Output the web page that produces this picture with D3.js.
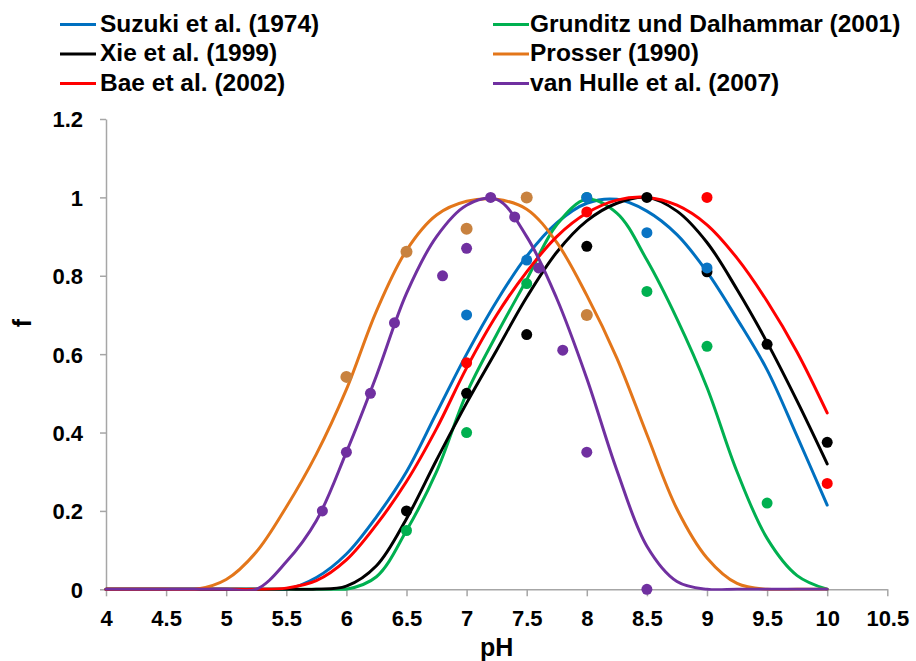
<!DOCTYPE html>
<html>
<head>
<meta charset="utf-8">
<script src="https://cdn.jsdelivr.net/npm/d3@7"></script>
<style>
  body { margin: 0; background: #fff; }
  text { font-family: "Liberation Sans", Arial, Helvetica, sans-serif; font-weight: bold; fill: #000; }
</style>
</head>
<body>
<svg id="chart" width="916" height="661"></svg>
<script>
// Axis ticks
const xTicks = [4, 4.5, 5, 5.5, 6, 6.5, 7, 7.5, 8, 8.5, 9, 9.5, 10, 10.5];
const yTicks = [0, 0.2, 0.4, 0.6, 0.8, 1, 1.2];

// pH grid on which the fitted curves are tabulated
const pHGrid = [4, 4.25, 4.5, 4.75, 5, 5.25, 5.5, 5.75, 6, 6.25, 6.5, 6.75, 7,
                7.25, 7.5, 7.75, 8, 8.25, 8.5, 8.75, 9, 9.25, 9.5, 9.75, 10];

// Fitted pH functions f(pH)
const suzukiFit   = [0, 0, 0, 0, 0, 0, 0, 0.03, 0.09, 0.185, 0.30, 0.45, 0.60,
                     0.735, 0.85, 0.935, 0.985, 0.995, 0.965, 0.905, 0.81, 0.69, 0.56, 0.39, 0.215];
const grunditzFit = [0, 0, 0, 0, 0, 0, 0, 0, 0, 0.032, 0.15, 0.30, 0.50,
                     0.65, 0.79, 0.93, 0.995, 0.96, 0.84, 0.69, 0.515, 0.30, 0.13, 0.035, 0];
const xieFit      = [0, 0, 0, 0, 0, 0, 0, 0, 0.008, 0.06, 0.18, 0.33, 0.475,
                     0.61, 0.745, 0.86, 0.94, 0.985, 1.0, 0.965, 0.885, 0.765, 0.63, 0.48, 0.32];
const prosserFit  = [0, 0, 0, 0, 0.025, 0.095, 0.21, 0.345, 0.51, 0.71, 0.865, 0.955, 0.99,
                     0.995, 0.97, 0.885, 0.75, 0.59, 0.395, 0.205, 0.08, 0.015, 0, 0, 0];
const baeFit      = [0, 0, 0, 0, 0, 0, 0.003, 0.022, 0.075, 0.165, 0.275, 0.41, 0.565,
                     0.70, 0.81, 0.90, 0.96, 0.993, 1.0, 0.98, 0.93, 0.845, 0.735, 0.605, 0.45];
const hulleFit    = [0, 0, 0, 0, 0, 0, 0.07, 0.175, 0.35, 0.545, 0.755, 0.90, 0.98,
                     0.995, 0.90, 0.742, 0.538, 0.304, 0.11, 0.02, 0, 0, 0, 0, 0];

// Measured values
const suzukiPH   = [7, 7.5, 8, 8.5, 9];
const suzukiObs  = [0.70, 0.84, 1.0, 0.91, 0.82];
const grunditzPH = [6.5, 7, 7.5, 8, 8.5, 9, 9.5];
const grunditzObs= [0.15, 0.40, 0.78, 1.0, 0.76, 0.62, 0.22];
const xiePH      = [6.5, 7, 7.5, 8, 8.5, 9, 9.5, 10];
const xieObs     = [0.20, 0.50, 0.65, 0.875, 1.0, 0.81, 0.625, 0.375];
const prosserPH  = [6, 6.5, 7, 7.5, 8];
const prosserObs = [0.542, 0.861, 0.92, 1.0, 0.70];
const baePH      = [7, 8, 9, 10];
const baeObs     = [0.578, 0.963, 1.0, 0.27];
const hullePH    = [5.8, 6, 6.2, 6.4, 6.8, 7, 7.2, 7.4, 7.6, 7.8, 8, 8.5];
const hulleObs   = [0.20, 0.35, 0.50, 0.68, 0.80, 0.87, 1.0, 0.95, 0.82, 0.61, 0.35, 0];

const series = [
  { name: "Suzuki et al. (1974)",          color: "#0070C0", dot: "#0a74c4", fit: suzukiFit,   px: suzukiPH,   obs: suzukiObs,   col: 0, row: 0 },
  { name: "Grunditz und Dalhammar (2001)", color: "#00B050", dot: "#00B050", fit: grunditzFit, px: grunditzPH, obs: grunditzObs, col: 1, row: 0 },
  { name: "Xie et al. (1999)",             color: "#000000", dot: "#000000", fit: xieFit,      px: xiePH,      obs: xieObs,      col: 0, row: 1 },
  { name: "Prosser (1990)",                color: "#E3761A", dot: "#C8823F", fit: prosserFit,  px: prosserPH,  obs: prosserObs,  col: 1, row: 1 },
  { name: "Bae et al. (2002)",             color: "#FF0000", dot: "#FF0000", fit: baeFit,      px: baePH,      obs: baeObs,      col: 0, row: 2 },
  { name: "van Hulle et al. (2007)",       color: "#7030A0", dot: "#7030A0", fit: hulleFit,    px: hullePH,    obs: hulleObs,    col: 1, row: 2 }
];

const svg = d3.select("#chart");
svg.append("rect").attr("width", 916).attr("height", 661).attr("fill", "#fff");

const x = d3.scaleLinear().domain([4, 10.5]).range([106, 887.3]);
const y = d3.scaleLinear().domain([0, 1.2]).range([589.3, 119]);

const axisColor = "#A6A6A6";

// x axis
const gx = svg.append("g").attr("transform", `translate(0,${y(0)})`)
  .call(d3.axisBottom(x).tickValues(xTicks).tickSize(7).tickSizeOuter(0).tickFormat(d => String(d)));
gx.select(".domain").attr("stroke", axisColor).attr("stroke-width", 1.5);
gx.selectAll(".tick line").attr("stroke", axisColor).attr("stroke-width", 1.5);
gx.selectAll(".tick text").attr("y", 37).attr("dy", 0).attr("font-size", 22);

// y axis
const gy = svg.append("g").attr("transform", `translate(${x(4)},0)`)
  .call(d3.axisLeft(y).tickValues(yTicks).tickSize(6).tickSizeOuter(0).tickFormat(d => String(d)));
gy.select(".domain").attr("stroke", axisColor).attr("stroke-width", 1.5);
gy.selectAll(".tick line").attr("stroke", axisColor).attr("stroke-width", 1.5);
gy.selectAll(".tick text").attr("x", -23).attr("dy", "0.36em").attr("font-size", 22);
svg.selectAll(".tick text").attr("font-family", null);

// axis titles
svg.append("text").attr("x", 496.7).attr("y", 656).attr("text-anchor", "middle")
  .attr("font-size", 25).text("pH");
svg.append("text").attr("transform", "translate(31,323) rotate(-90)").attr("text-anchor", "middle")
  .attr("font-size", 25).text("f");

// keep the smoothed curves from dipping below the zero line
svg.append("clipPath").attr("id", "plotClip")
  .append("rect").attr("x", 0).attr("y", 0).attr("width", 916).attr("height", y(0) + 1.5);

// fitted curves; van Hulle drawn last so it sits on top along the zero line
const line = d3.line().curve(d3.curveCatmullRom.alpha(0.5));
const curves = svg.append("g").attr("clip-path", "url(#plotClip)");
series.forEach(s => {
  curves.append("path")
    .attr("d", line(pHGrid.map((p, k) => [x(p), y(s.fit[k])])))
    .attr("fill", "none").attr("stroke", s.color).attr("stroke-width", 3)
    .attr("stroke-linejoin", "round").attr("stroke-linecap", "round");
});

// measured points
const dotOrder = [1, 2, 4, 3, 5, 0];
dotOrder.forEach(i => {
  const s = series[i];
  svg.append("g").selectAll("circle").data(s.px.map((p, k) => [p, s.obs[k]])).join("circle")
    .attr("cx", d => x(d[0])).attr("cy", d => y(d[1]))
    .attr("r", i === 3 ? 6 : 5.5).attr("fill", s.dot);
});

// legend
const legendCols = [{ lx: 60, tx: 100 }, { lx: 493, tx: 530 }];
const legendRows = [23, 52.5, 82];
const lg = svg.append("g");
series.forEach(s => {
  const c = legendCols[s.col], ry = legendRows[s.row];
  lg.append("line").attr("x1", c.lx).attr("x2", c.lx + 36)
    .attr("y1", ry + 1.5).attr("y2", ry + 1.5)
    .attr("stroke", s.color).attr("stroke-width", 3);
  lg.append("text").attr("x", c.tx).attr("y", ry).attr("dy", "0.358em")
    .attr("font-size", 24.5).text(s.name);
});
</script>
</body>
</html>
